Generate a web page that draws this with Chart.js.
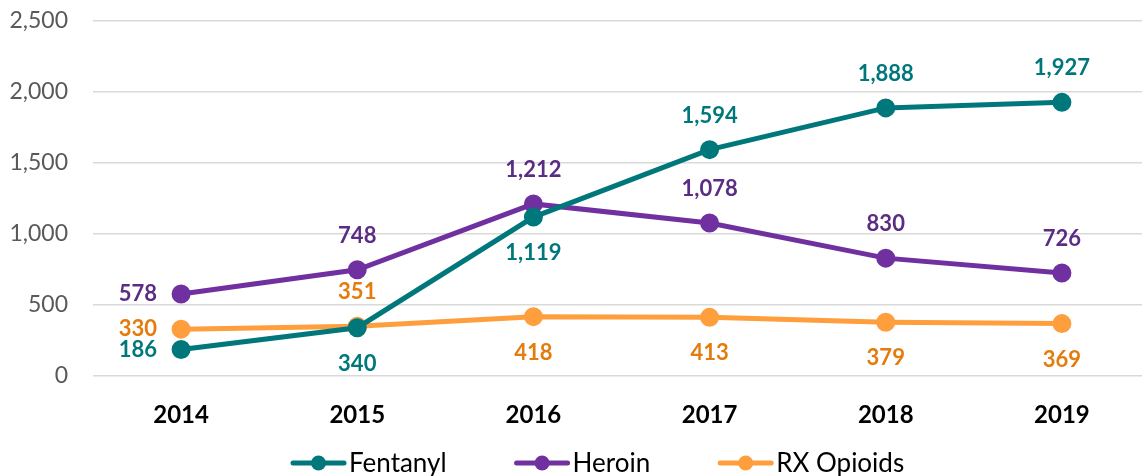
<!DOCTYPE html>
<html>
<head>
<meta charset="utf-8">
<script src="https://cdn.jsdelivr.net/npm/chart.js@4/dist/chart.umd.min.js"></script>
<style>
  html, body { margin: 0; padding: 0; background: #fff; overflow: hidden; }
  #wrap { width: 1150px; height: 476px; }
</style>
</head>
<body>
<div id="wrap"><canvas id="chart" width="1150" height="476"></canvas></div>
<script>
// ── Data ─────────────────────────────────────
const years    = ['2014', '2015', '2016', '2017', '2018', '2019'];
const fentanyl = [186, 340, 1119, 1594, 1888, 1927];
const heroin   = [578, 748, 1212, 1078, 830, 726];
const rx       = [330, 351, 418, 413, 379, 369];
const yTicks   = [0, 500, 1000, 1500, 2000, 2500];

// where each value label sits relative to its point
const fentPlace   = ['left', 'below', 'below', 'above', 'above', 'above'];
const heroinPlace = ['left', 'above', 'above', 'above', 'above', 'above'];
const rxPlace     = ['left', 'above', 'below', 'below', 'below', 'below'];

const FONT = 'Lato, "Open Sans", sans-serif';

// ── Value labels plugin ──────────────────────
const valueLabels = {
  id: 'valueLabels',
  afterDatasetsDraw(chart) {
    const ctx = chart.ctx;
    ctx.save();
    ctx.font = 'bold 22px ' + FONT;
    ctx.textBaseline = 'middle';
    chart.data.datasets.forEach((ds, i) => {
      const meta = chart.getDatasetMeta(i);
      meta.data.forEach((pt, j) => {
        const txt = ds.data[j].toLocaleString('en-US');
        const where = ds.place[j];
        ctx.fillStyle = ds.labelColor;
        if (where === 'left') {
          ctx.textAlign = 'right';
          ctx.fillText(txt, pt.x - 24, pt.y);
        } else {
          ctx.textAlign = 'center';
          ctx.fillText(txt, pt.x, where === 'above' ? pt.y - 34 : pt.y + 36);
        }
      });
    });
    ctx.restore();
  },
};

// ── Bottom legend: line + dot marker, then name ──
const lineLegend = {
  id: 'lineLegend',
  afterDraw(chart) {
    const ctx = chart.ctx;
    const y = 463;
    let x = 290;
    ctx.save();
    ctx.font = '26px ' + FONT;
    ctx.textBaseline = 'middle';
    ctx.textAlign = 'left';
    chart.data.datasets.forEach(ds => {
      ctx.strokeStyle = ds.borderColor;
      ctx.fillStyle = ds.borderColor;
      ctx.lineWidth = 5;
      ctx.lineCap = 'round';
      ctx.beginPath(); ctx.moveTo(x + 3, y); ctx.lineTo(x + 54, y); ctx.stroke();
      ctx.beginPath(); ctx.arc(x + 28.5, y, 7.5, 0, Math.PI * 2); ctx.fill();
      ctx.fillStyle = '#000';
      ctx.fillText(ds.label, x + 59, y + 1);
      x += 59 + ctx.measureText(ds.label).width + 67;
    });
    ctx.restore();
  },
};

function series(label, data, color, labelColor, place) {
  return {
    label, data, place, labelColor,
    borderColor:          color,
    backgroundColor:      color,
    pointBackgroundColor: color,
    pointBorderColor:     color,
    borderWidth:          5,
    pointRadius:          7,
    pointHoverRadius:     7,
    tension:              0,
    fill:                 false,
    clip:                 false,
  };
}

new Chart(document.getElementById('chart'), {
  type: 'line',
  data: {
    labels: years,
    datasets: [
      series('Fentanyl',   fentanyl, '#00787B', '#00787B', fentPlace),
      series('Heroin',     heroin,   '#7030A0', '#5B2C83', heroinPlace),
      series('RX Opioids', rx,       '#FF9E3D', '#E57B0C', rxPlace),
    ],
  },
  plugins: [valueLabels, lineLegend],
  options: {
    responsive: false,
    animation: false,
    layout: { autoPadding: false, padding: { top: 21, right: 0, left: 0, bottom: 0 } },
    plugins: {
      tooltip: { enabled: false },
      legend: { display: false },
    },
    scales: {
      x: {
        offset: true,
        grid: { display: false },
        border: { display: false },
        ticks: { color: '#000', padding: 17, font: { family: FONT, size: 24, weight: 'bold' } },
        afterFit: s => { s.height = 100; s.paddingLeft = 0; s.paddingRight = 0; },
      },
      y: {
        min: 0,
        max: 2500,
        afterBuildTicks: s => { s.ticks = yTicks.map(v => ({ value: v })); },
        afterFit: s => { s.width = 93; s.paddingTop = 0; s.paddingBottom = 0; },
        grid: { color: '#D9D9D9', lineWidth: 1.5, drawTicks: false },
        border: { display: false },
        ticks: {
          color: '#595959',
          padding: 25,
          font: { family: FONT, size: 23 },
          callback: v => v.toLocaleString('en-US'),
        },
      },
    },
  },
});
</script>
</body>
</html>
